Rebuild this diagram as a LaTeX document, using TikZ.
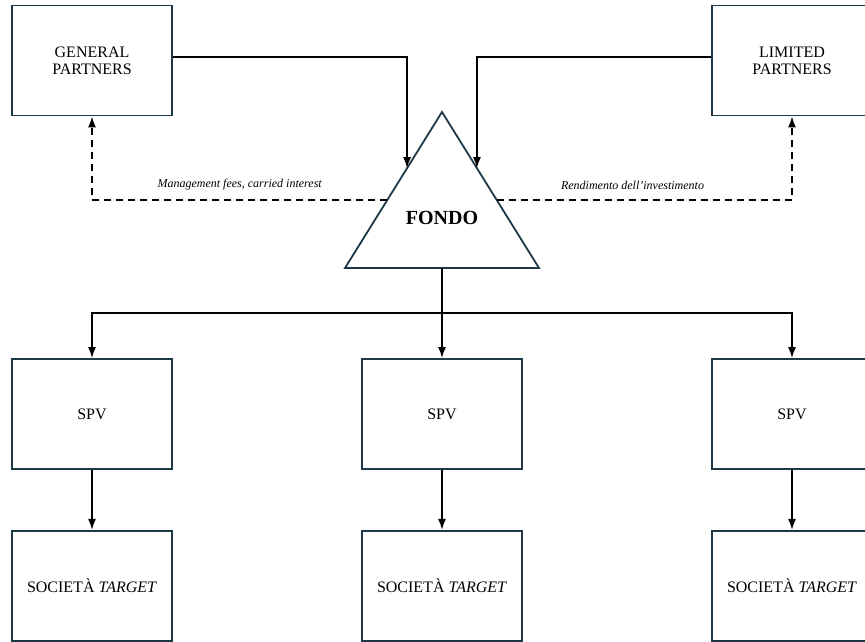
\documentclass[tikz,border=0pt]{standalone}
\usepackage{fontspec}
\setmainfont{Liberation Serif}
\usepackage{xcolor}
\usetikzlibrary{arrows.meta,positioning,calc}

\definecolor{boxline}{RGB}{31,56,72}

\tikzset{
    entity/.style={draw=boxline, line width=1.8pt, minimum width=160pt, minimum height=110pt,
        inner sep=0pt, align=center, font=\fontsize{16}{17}\selectfont},
    flow/.style={line width=1.6pt, -{Latex[length=11pt,width=8pt]}},
    payback/.style={flow, dash pattern=on 7pt off 5pt},
    note/.style={font=\itshape\fontsize{12}{14}\selectfont}
}

\begin{document}
\begin{tikzpicture}[x=1pt, y=-1pt]
    \useasboundingbox (0,0) rectangle (865,641);
    \clip (0,0) rectangle (865,641);

    \node[entity] (gp) at (92,60.5) {GENERAL\\PARTNERS};
    \node[entity] (lp) at (792,60.5) {LIMITED\\PARTNERS};

    \coordinate (apex) at (442,112);
    \coordinate (bl) at (345,268);
    \coordinate (br) at (539,268);
    \draw[boxline, line width=1.8pt] (apex) -- (bl) -- (br) -- cycle;
    \node[font=\bfseries\fontsize{20}{24}\selectfont] (fondo) at (442,218) {FONDO};

    \coordinate (inL) at ($(apex)!0.36!(bl)$);
    \coordinate (inR) at ($(apex)!0.36!(br)$);
    \coordinate (outL) at ($(apex)!0.564!(bl)$);
    \coordinate (outR) at ($(apex)!0.564!(br)$);
    \coordinate (base) at ($(bl)!0.5!(br)$);
    \coordinate (split) at (442,313);

    \draw[flow] ([yshift=3.5pt]gp.east) -| (inL);
    \draw[flow] ([yshift=3.5pt]lp.west) -| (inR);
    \draw[payback] (outL) -| node[note, above=6pt, pos=0.25] {Management fees, carried interest} (gp.south);
    \draw[payback] (outR) -| node[note, above=6pt, pos=0.23] {Rendimento dell'investimento} (lp.south);

    \draw[line width=1.6pt] (base) -- (split);
    \foreach \x/\n in {92/1, 442/2, 792/3} {
        \node[entity] (spv\n) at (\x,414) {SPV};
        \node[entity, below=60pt of spv\n] (tgt\n) {SOCIETÀ \textit{TARGET}};
        \draw[flow] (split) -| (spv\n.north);
        \draw[flow] (spv\n) -- (tgt\n);
    }
\end{tikzpicture}
\end{document}
